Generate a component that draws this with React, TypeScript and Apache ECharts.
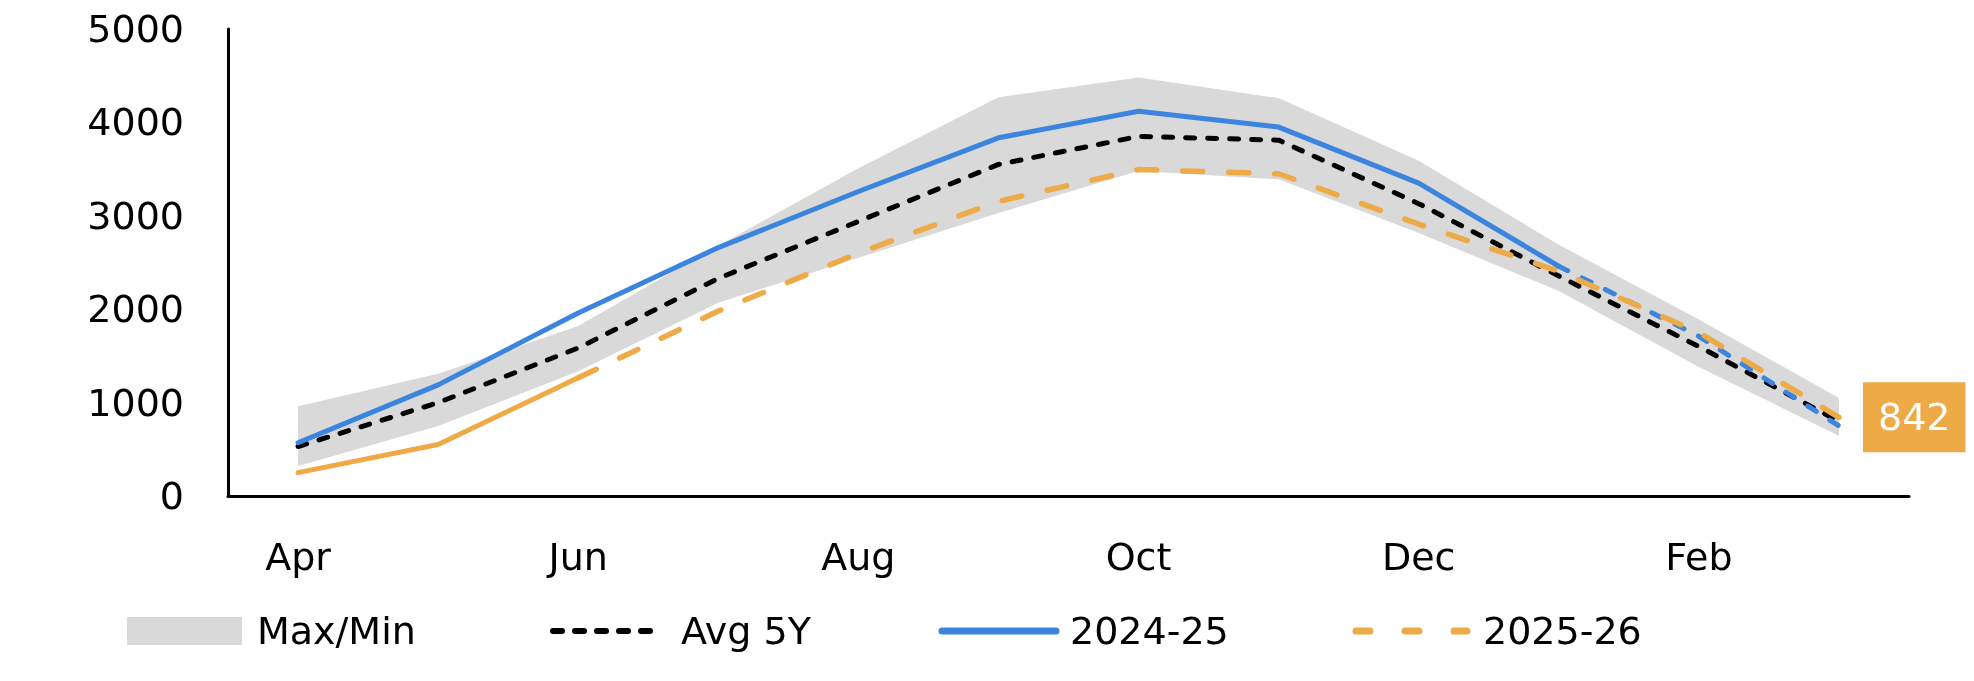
import React, { useEffect, useRef } from "react";
import * as echarts from "echarts";

const months = ["Apr", "May", "Jun", "Jul", "Aug", "Sep", "Oct", "Nov", "Dec", "Jan", "Feb", "Mar"];
const bandMax = [960, 1310, 1820, 2680, 3510, 4270, 4480, 4260, 3590, 2690, 1890, 1050];
const bandMin = [320, 750, 1335, 2070, 2550, 3030, 3480, 3390, 2815, 2195, 1380, 645];
const avg5y = [530, 1000, 1585, 2330, 2940, 3550, 3850, 3810, 3130, 2355, 1600, 800];
const s2425 = [570, 1190, 1960, 2660, 3260, 3835, 4120, 3950, 3350, 2460, 1710, 750];
const s2526 = [250, 552, 1265, 1980, 2600, 3155, 3495, 3450, 2910, 2405, 1750, 842];
const blueSolidEnd = 9; // index of Jan: solid up to here, dashed afterwards
const orangeSolidEnd = 2; // index of Jun

const FONT = "'DejaVu Sans', sans-serif";
const FS = 38;
const BLUE = "#3C85DF";
const ORANGE = "#EEAA47";
const GRAY = "#D9D9D9";

function split(arr: number[], end: number, solid: boolean) {
  return arr.map((v, i) => (solid ? (i <= end ? v : null) : i >= end ? v : null));
}

export default function App() {
  const ref = useRef<HTMLDivElement>(null);
  useEffect(() => {
    if (!ref.current) return;
    const chart = echarts.init(ref.current, null, { renderer: "svg" });
    const legendY = 631;
    const txt = (x: number, text: string) => ({
      type: "text",
      x,
      y: legendY,
      style: { text, fontSize: FS, fontFamily: FONT, fill: "#000", verticalAlign: "middle" },
    });
    chart.setOption({
      animation: false,
      textStyle: { fontFamily: FONT },
      grid: { left: 228, right: 65, top: 29, bottom: 185, containLabel: false },
      xAxis: {
        type: "category",
        data: months,
        boundaryGap: true,
        axisLine: { show: true, lineStyle: { color: "#000", width: 3 } },
        axisTick: { show: false },
        axisLabel: { interval: 1, color: "#000", fontSize: FS, fontFamily: FONT, margin: 42 },
      },
      yAxis: {
        type: "value",
        min: 0,
        max: 5000,
        interval: 1000,
        splitLine: { show: false },
        axisLine: { show: true, lineStyle: { color: "#000", width: 3 } },
        axisTick: { show: false },
        axisLabel: {
          color: "#000",
          fontSize: FS,
          fontFamily: FONT,
          margin: 44,
          formatter: (v: number) => String(v),
        },
      },
      series: [
        {
          name: "min",
          type: "line",
          stack: "band",
          data: bandMin,
          symbol: "none",
          lineStyle: { width: 0, opacity: 0 },
          silent: true,
        },
        {
          name: "Max/Min",
          type: "line",
          stack: "band",
          data: bandMax.map((v, i) => v - bandMin[i]),
          symbol: "none",
          lineStyle: { width: 0, opacity: 0 },
          areaStyle: { color: GRAY, opacity: 1 },
          silent: true,
        },
        {
          name: "Avg 5Y",
          type: "line",
          data: avg5y,
          symbol: "none",
          lineStyle: { color: "#000", width: 5, type: [9, 13], cap: "round", join: "round" },
        },
        {
          name: "2024-25",
          type: "line",
          data: split(s2425, blueSolidEnd, true),
          symbol: "none",
          lineStyle: { color: BLUE, width: 5, cap: "round", join: "round" },
        },
        {
          name: "2024-25 f",
          type: "line",
          data: split(s2425, blueSolidEnd, false),
          symbol: "none",
          lineStyle: { color: BLUE, width: 5, type: [10, 16], cap: "round", join: "round" },
        },
        {
          name: "2025-26 a",
          type: "line",
          data: split(s2526, orangeSolidEnd, true),
          symbol: "none",
          lineStyle: { color: ORANGE, width: 5, cap: "round", join: "round" },
        },
        {
          name: "2025-26",
          type: "line",
          data: split(s2526, orangeSolidEnd, false),
          symbol: "none",
          lineStyle: { color: ORANGE, width: 5.5, type: [20, 26], cap: "round", join: "round" },
          endLabel: {
            show: true,
            formatter: (p: any) => String(p.value),
            backgroundColor: ORANGE,
            color: "#fff",
            fontSize: FS,
            fontFamily: FONT,
            lineHeight: 40,
            padding: [15, 15],
            distance: 24,
          },
        },
      ],
      graphic: [
        { type: "rect", shape: { x: 127, y: legendY - 14, width: 115, height: 28 }, style: { fill: GRAY } },
        txt(257, "Max/Min"),
        { type: "line", shape: { x1: 553, y1: legendY, x2: 661, y2: legendY }, style: { stroke: "#000", lineWidth: 6, lineDash: [9, 13], lineCap: "round" } },
        txt(681, "Avg 5Y"),
        { type: "line", shape: { x1: 942, y1: legendY, x2: 1056, y2: legendY }, style: { stroke: BLUE, lineWidth: 7, lineCap: "round" } },
        txt(1070, "2024-25"),
        { type: "line", shape: { x1: 1356, y1: legendY, x2: 1467, y2: legendY }, style: { stroke: ORANGE, lineWidth: 7, lineDash: [14, 35], lineCap: "round" } },
        txt(1483, "2025-26"),
      ],
    });
    return () => chart.dispose();
  }, []);
  return <div ref={ref} style={{ position: "fixed", left: 0, top: 0, width: 1974, height: 681 }} />;
}
